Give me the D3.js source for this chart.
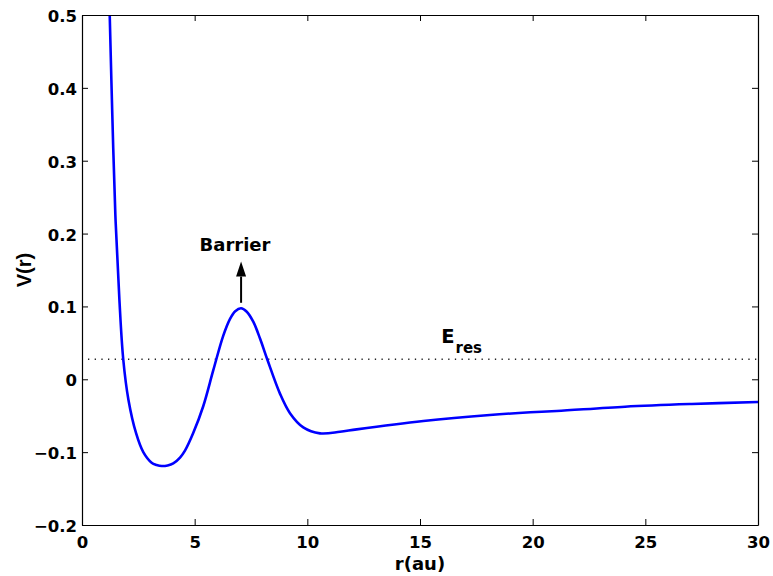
<!DOCTYPE html>
<html><head><meta charset="utf-8">
<script src="https://cdn.jsdelivr.net/npm/d3@7"></script>
<style>body{margin:0;background:#fff}svg{display:block}</style>
</head><body>
<svg id="c" width="773" height="576"></svg>
<script>
// Data
const rValues = [1.18,1.23,1.345,1.48,1.66,1.83,2.06,2.40,2.72,3.09,3.31,3.54,3.80,4.05,4.35,4.57,4.94,5.38,5.83,6.27,6.57,6.8,7.06,7.3,7.6,7.9,8.22,8.79,9.23,9.82,10.56,11.45,12.19,15.15,18.1,19.9,21.07,24.1,27.06,30];
const vValues = [0.56,0.50,0.363,0.226,0.109,0.0275,-0.028,-0.074,-0.100,-0.1145,-0.1175,-0.1190,-0.1182,-0.1155,-0.1075,-0.098,-0.0735,-0.037,0.0128,0.060,0.083,0.0935,0.0975,0.093,0.079,0.056,0.0275,-0.020,-0.0465,-0.066,-0.0742,-0.072,-0.0687,-0.0573,-0.049,-0.0453,-0.0435,-0.0376,-0.0339,-0.0312];
const xTicks = [0,5,10,15,20,25,30];
const yTicks = [-0.2,-0.1,0,0.1,0.2,0.3,0.4,0.5];
const yTickLabels = ["\u22120.2","\u22120.1","0","0.1","0.2","0.3","0.4","0.5"];
const eRes = 0.0275;
const barrierR = 7.06;

const svg = d3.select("#c");
const L=82,R=758,T=15,B=525;
const x = d3.scaleLinear().domain([0,30]).range([L,R]);
const y = d3.scaleLinear().domain([-0.2,0.5]).range([B,T]);
const tickFont = "'DejaVu Sans', sans-serif";

svg.append("defs").append("clipPath").attr("id","clip")
  .append("rect").attr("x",L).attr("y",T).attr("width",R-L).attr("height",B-T);

// E_res dotted line
svg.append("line").attr("x1",x(0)+6).attr("x2",R).attr("y1",y(eRes)).attr("y2",y(eRes))
  .attr("stroke","#222").attr("stroke-width",1.3).attr("stroke-dasharray","1.3,5.37");

// curve
const pts = rValues.map((r,i)=>[r,vValues[i]]);
svg.append("path").datum(pts).attr("clip-path","url(#clip)")
  .attr("fill","none").attr("stroke","#0000ff").attr("stroke-width",2.6)
  .attr("d", d3.line().x(d=>x(d[0])).y(d=>y(d[1])).curve(d3.curveCatmullRom.alpha(0.5)));

// axes
const gB = svg.append("g").attr("transform",`translate(0,${B})`)
  .call(d3.axisBottom(x).tickValues(xTicks).tickSizeInner(-6).tickSizeOuter(0).tickPadding(12));
const gT = svg.append("g").attr("transform",`translate(0,${T})`)
  .call(d3.axisTop(x).tickValues(xTicks).tickSizeInner(-6).tickSizeOuter(0).tickFormat(""));
const gL = svg.append("g").attr("transform",`translate(${L},0)`)
  .call(d3.axisLeft(y).tickValues(yTicks).tickSizeInner(-6).tickSizeOuter(0).tickPadding(6)
    .tickFormat((d,i)=>yTickLabels[i]));
const gR = svg.append("g").attr("transform",`translate(${R},0)`)
  .call(d3.axisRight(y).tickValues(yTicks).tickSizeInner(-6).tickSizeOuter(0).tickFormat(""));
[gB,gT,gL,gR].forEach(g=>{
  g.select(".domain").attr("stroke","#000").attr("stroke-width",1.2);
  g.selectAll(".tick line").attr("stroke","#000").attr("stroke-width",1);
  g.selectAll("text").attr("font-family",tickFont).attr("font-weight","bold")
    .attr("font-size",16.5).attr("fill","#000");
});
gB.selectAll("text").attr("dy",null).attr("y",23);
gL.selectAll("text").attr("dy",null).attr("y",6.5).attr("x",-5);

// labels
svg.append("text").attr("x",(L+R)/2).attr("y",570).attr("text-anchor","middle")
  .attr("font-family",tickFont).attr("font-weight","bold").attr("font-size",18).text("r(au)");
svg.append("text").attr("transform",`translate(31,${(T+B)/2}) rotate(-90)`).attr("text-anchor","middle")
  .attr("font-family","'Liberation Sans', Arial, sans-serif").attr("font-weight","bold").attr("font-size",20).text("V(r)");

// barrier arrow
const ax = x(barrierR);
svg.append("line").attr("x1",ax).attr("x2",ax).attr("y1",y(0.105)).attr("y2",y(0.141))
  .attr("stroke","#000").attr("stroke-width",2);
svg.append("path").attr("fill","#000")
  .attr("d",`M${ax},${y(0.1615)} L${ax-5},${y(0.141)} L${ax+5},${y(0.141)} Z`);
svg.append("text").attr("x",x(6.79)).attr("y",y(0.1766)).attr("text-anchor","middle")
  .attr("font-family",tickFont).attr("font-weight","bold").attr("font-size",18).text("Barrier");

// E_res label
const et = svg.append("text").attr("x",x(15.94)).attr("y",y(0.0503))
  .attr("font-family",tickFont).attr("font-weight","bold").attr("font-size",19.5);
et.append("tspan").text("E");
et.append("tspan").attr("dy",10).attr("dx",1).attr("font-size",15).text("res");
</script>
</body></html>
